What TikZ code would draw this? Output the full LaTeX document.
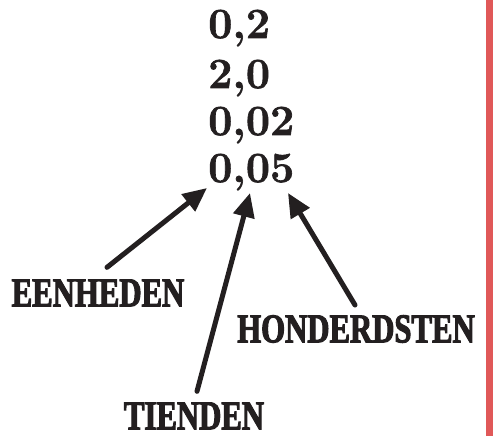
\documentclass[tikz,border=0pt]{standalone}
\usepackage{fontspec}
\usetikzlibrary{arrows.meta}
\newfontfamily\labelfont[FakeStretch=0.75,FakeBold=2.5]{Liberation Serif}
\newfontfamily\getalfont[FakeBold=1.5]{Latin Modern Roman}
\definecolor{marginred}{RGB}{224,88,88}
\definecolor{inkt}{RGB}{35,31,32}
\tikzset{
  getal/.style={anchor=base west, inner sep=0pt, text=inkt, font=\fontsize{43}{43}\selectfont\getalfont\bfseries},
  woord/.style={inner sep=0pt, text=inkt, font=\fontsize{41}{41}\selectfont\labelfont\bfseries},
  pijl/.style={draw=inkt, -{Triangle[length=24pt,width=21pt]}, line width=5pt, line cap=round},
}
\begin{document}
\begin{tikzpicture}[x=1pt,y=-1pt]
		\useasboundingbox[fill=white] (0,0) rectangle (493,436);
		\fill[marginred] (486,0) rectangle (493,436);
		% getallen
		\node[getal] (n1) at (208,38) {0,2};
		\node[getal] (n2) at (208,88) {2,0};
		\node[getal] (n3) at (208,135) {0,02};
		\node[getal] (n4) at (208,182) {0,05};
		% woorden
		\node[woord] (een) at (98,293) {EENHEDEN};
		\node[woord] (tien) at (194,416) {TIENDEN};
		\node[woord] (hond) at (356,329) {HONDERDSTEN};
		% pijlen
		\coordinate (pE) at ([shift={(-1,6)}]n4.base west);
		\coordinate (pT) at ([shift={(42,11)}]n4.base west);
		\coordinate (pH) at ([shift={(80,11)}]n4.base west);
		\draw[pijl] ([shift={(9,-12)}]een.north)--(pE);
		\draw[pijl] ([shift={(3,-11)}]tien.north)--(pT);
		\draw[pijl] ([shift={(-1,-10)}]hond.north)--(pH);
\end{tikzpicture}
\end{document}
